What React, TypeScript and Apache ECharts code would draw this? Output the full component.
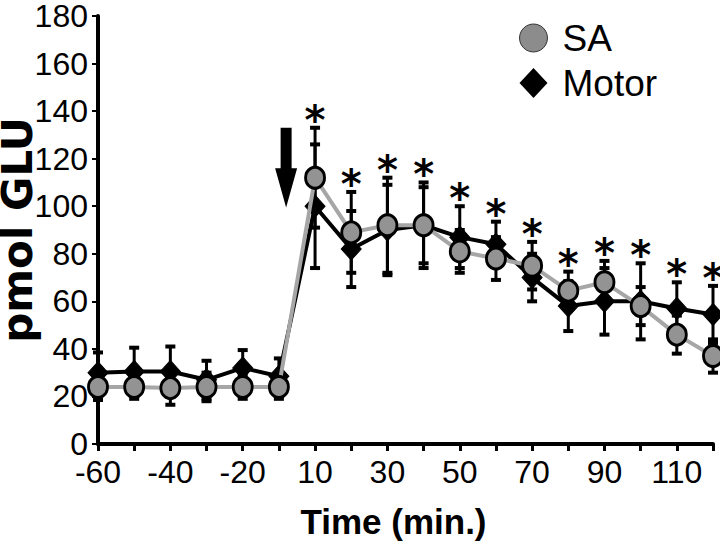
import React, { useEffect, useRef } from "react";
import * as echarts from "echarts";

const categories = ["-60", "-50", "-40", "-30", "-20", "-10", "10", "20", "30", "40", "50", "60", "70", "80", "90", "100", "110", "120"];
const saMean = [24, 24, 23.5, 24, 24, 24, 112, 89, 92, 92, 81, 78, 75, 64.5, 68, 58, 46, 37];
const saErr = [5.5, 5, 7, 6, 5, 5, 21, 17, 20, 18, 9, 9, 10, 8, 9, 8, 8, 7];
const motorMean = [30, 30.5, 30.5, 27, 32, 28.5, 100, 82, 90, 92, 87, 84, 70, 58, 60, 60, 57, 54.5];
const motorErr = [8.5, 10, 10.5, 8, 7.5, 7.5, 26, 16, 19, 16, 13, 9.5, 10, 10.5, 14, 16, 11, 12];
const significant = [0, 0, 0, 0, 0, 0, 1, 1, 1, 1, 1, 1, 1, 1, 1, 1, 1, 1];
const arrowTop = 133;
const arrowHeadStart = 116;
const arrowTip = 99.5;

const SANS = "'Liberation Sans', Arial, sans-serif";

export default function App() {
  const ref = useRef<HTMLDivElement>(null);
  useEffect(() => {
    document.body.style.margin = "0";
    const chart = echarts.init(ref.current!, undefined, { renderer: "svg" });

    const errData: number[][] = [];
    categories.forEach((_, i) => {
      errData.push([i, saMean[i] - saErr[i], saMean[i] + saErr[i]]);
      errData.push([i, motorMean[i] - motorErr[i], motorMean[i] + motorErr[i]]);
    });
    const starData: number[][] = [];
    categories.forEach((_, i) => {
      if (significant[i]) {
        starData.push([i, Math.max(saMean[i] + saErr[i], motorMean[i] + motorErr[i])]);
      }
    });

    const option: any = {
      animation: false,
      grid: { left: 98, right: 7, top: 16, bottom: 106, containLabel: false, outerBoundsMode: "none" },
      legend: {
        orient: "vertical",
        left: 514,
        top: 13,
        itemWidth: 28,
        itemHeight: 30,
        itemGap: 5,
        textStyle: { fontSize: 37, color: "#000", fontFamily: SANS, lineHeight: 40, padding: [0, 0, 0, 10] },
        data: [
          { name: "SA", icon: "circle", itemStyle: { color: "#8c8c8c", borderColor: "#333", borderWidth: 1 } },
          { name: "Motor", icon: "diamond", itemStyle: { color: "#000", borderColor: "#000", borderWidth: 0 } },
        ],
      },
      xAxis: {
        type: "category",
        data: categories,
        boundaryGap: false,
        name: "Time (min.)",
        nameLocation: "middle",
        nameGap: 60,
        nameMoveOverlap: false,
        nameTextStyle: { fontSize: 35, fontWeight: "bold", color: "#000", fontFamily: SANS, padding: [0, 24, 0, 0] },
        axisLine: { lineStyle: { color: "#000", width: 4 } },
        axisTick: { show: true, interval: 0, length: 7, lineStyle: { color: "#000", width: 3 } },
        axisLabel: { interval: 1, fontSize: 32, color: "#000", fontFamily: SANS, margin: 12 },
        splitLine: { show: false },
      },
      yAxis: {
        type: "value",
        min: 0,
        max: 180,
        interval: 20,
        name: "pmol GLU",
        nameLocation: "middle",
        nameGap: 60,
        nameMoveOverlap: false,
        nameTextStyle: { fontSize: 42, fontWeight: "bold", color: "#000", fontFamily: "'DejaVu Sans', sans-serif" },
        axisLine: { show: true, lineStyle: { color: "#000", width: 4 } },
        axisTick: { show: true, length: 6, lineStyle: { color: "#000", width: 2 } },
        axisLabel: { fontSize: 32, color: "#000", fontFamily: SANS, margin: 10 },
        splitLine: { show: false },
      },
      series: [
        {
          type: "custom",
          name: "err",
          z: 1,
          data: errData,
          encode: { x: 0, y: [1, 2] },
          renderItem: (params: any, api: any) => {
            const i = api.value(0);
            const lo = api.coord([i, api.value(1)]);
            const hi = api.coord([i, api.value(2)]);
            const cw = 5;
            const style = { stroke: "#000", lineWidth: 3 };
            return {
              type: "group",
              children: [
                { type: "line", shape: { x1: lo[0], y1: lo[1], x2: hi[0], y2: hi[1] }, style },
                { type: "line", shape: { x1: lo[0] - cw, y1: lo[1], x2: lo[0] + cw, y2: lo[1] }, style: { stroke: "#000", lineWidth: 4 } },
                { type: "line", shape: { x1: hi[0] - cw, y1: hi[1], x2: hi[0] + cw, y2: hi[1] }, style: { stroke: "#000", lineWidth: 4 } },
              ],
            };
          },
        },
        {
          type: "line",
          name: "Motor",
          z: 2,
          data: motorMean,
          symbol: "diamond",
          symbolSize: [20, 22],
          lineStyle: { color: "#000", width: 4 },
          itemStyle: { color: "#000", borderColor: "#000", borderWidth: 1 },
        },
        {
          type: "line",
          name: "SA",
          z: 3,
          data: saMean,
          symbol: "circle",
          symbolSize: [19, 21],
          lineStyle: { color: "#a6a6a6", width: 4 },
          itemStyle: { color: "#939393", borderColor: "#000", borderWidth: 3 },
        },
        {
          type: "custom",
          name: "stars",
          z: 4,
          data: starData,
          encode: { x: 0, y: 1 },
          renderItem: (params: any, api: any) => {
            const p = api.coord([api.value(0), api.value(1)]);
            return {
              type: "text",
              style: {
                text: "*",
                x: p[0],
                y: p[1] - 8,
                fontSize: 40,
                fontWeight: "bold",
                fontFamily: "'DejaVu Sans', sans-serif",
                fill: "#000",
                align: "center",
                verticalAlign: "middle",
              },
            };
          },
        },
        {
          type: "custom",
          name: "arrow",
          z: 4,
          data: [[5, arrowTop, arrowHeadStart, arrowTip]],
          encode: { x: 0, y: [1, 3] },
          renderItem: (params: any, api: any) => {
            const i = api.value(0);
            const a = api.coord([i, api.value(1)]);
            const b = api.coord([i + 1, api.value(1)]);
            const x = a[0] + 0.2 * (b[0] - a[0]);
            const yTop = a[1];
            const yHead = api.coord([i, api.value(2)])[1];
            const yTip = api.coord([i, api.value(3)])[1];
            const sw = 5.5;
            const hw = 11;
            return {
              type: "polygon",
              shape: {
                points: [
                  [x - sw, yTop],
                  [x + sw, yTop],
                  [x + sw, yHead],
                  [x + hw, yHead],
                  [x, yTip],
                  [x - hw, yHead],
                  [x - sw, yHead],
                ],
              },
              style: { fill: "#000" },
            };
          },
        },
      ],
    };
    chart.setOption(option);
    return () => chart.dispose();
  }, []);
  return <div ref={ref} style={{ width: 720, height: 550 }} />;
}
